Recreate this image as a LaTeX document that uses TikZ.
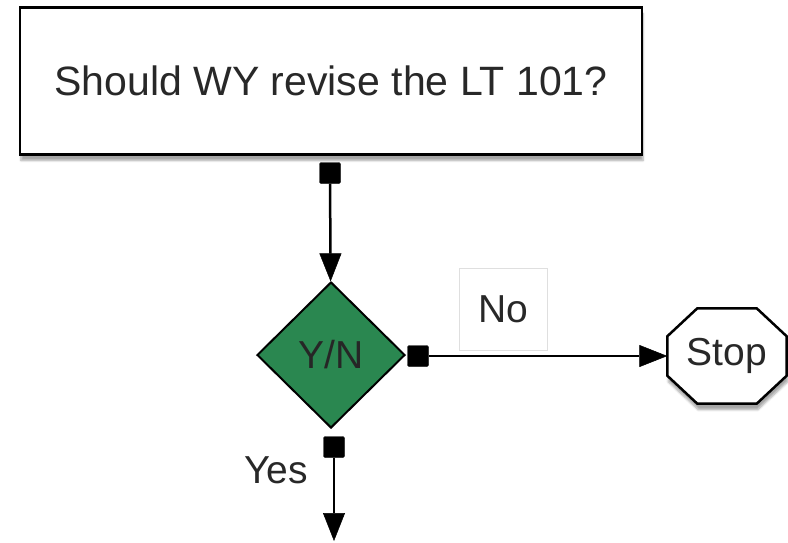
\documentclass[tikz,border=0pt]{standalone}
\usepackage{fontspec}
\setmainfont{Liberation Sans}
\usetikzlibrary{positioning, calc, shapes.geometric, arrows.meta, shadows.blur}
\definecolor{ynGreen}{RGB}{42,135,80}
\definecolor{txtGray}{RGB}{40,40,40}

\begin{document}
\begin{tikzpicture}[x=1pt, y=-1pt,
	every node/.style={font=\fontsize{39}{44}\selectfont, text=txtGray},
	softshade/.style={blur shadow={shadow xshift=1pt, shadow yshift=-6pt, shadow blur steps=6, shadow opacity=35}},
	box/.style={draw, line width=2.5pt, fill=white, minimum width=622pt, minimum height=147pt, softshade,
		font=\fontsize{41}{46}\selectfont},
	decide/.style={diamond, draw, line width=2pt, fill=ynGreen, minimum width=148pt, minimum height=146pt, inner sep=0pt, text=black!85},
	halt/.style={minimum width=119pt, minimum height=95pt, inner sep=0pt},
	knob/.style={draw, fill=black, minimum size=21pt, inner sep=0pt, rounded corners=1.5pt},
	tag/.style={draw=gray!25, line width=0.8pt, minimum width=88pt, minimum height=82pt},
	flow/.style={draw=black, line width=2.5pt, -{Triangle[length=28pt, width=22pt, fill=black, line width=0.5pt]}}]
	\useasboundingbox (0,0) rectangle (788,542);
	% question and decision
	\node[box] (ask) at (331,81) {Should WY revise the LT 101?};
	\node[decide] (yn) at (331,355) {Y/N};
	\node[halt] (stop) at (727,356) {};
	\draw[line width=2.5pt, fill=white, softshade]
		($(stop.north west)+(30,0)$) -- ($(stop.north east)+(-30,0)$) -- ($(stop.north east)+(0,28)$)
		-- ($(stop.south east)+(0,-28)$) -- ($(stop.south east)+(-30,0)$) -- ($(stop.south west)+(30,0)$)
		-- ($(stop.south west)+(0,-28)$) -- ($(stop.north west)+(0,28)$) -- cycle;
	\node at (stop) {Stop};
	\node[tag] (no) at (503,309) {No};
	\node (yes) at (276,470) {Yes};
	% connector ends
	\node[knob] (k1) at (330,173) {};
	\node[knob] (k2) at (418,356) {};
	\node[knob] (k3) at (334,447) {};
	\coordinate (down) at (334,541);
	\draw[flow] (k1) -- (yn);
	\draw[flow] (k2) -- (stop);
	\draw[flow] (k3) -- (down);
\end{tikzpicture}
\end{document}
